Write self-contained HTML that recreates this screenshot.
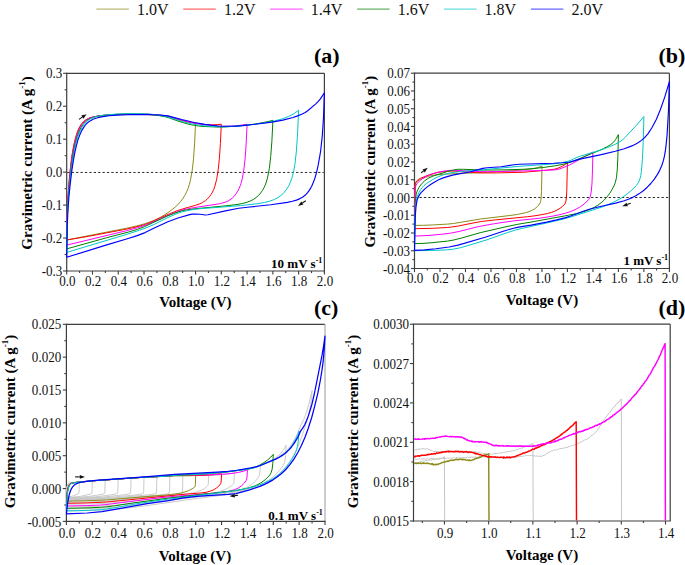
<!DOCTYPE html>
<html><head><meta charset="utf-8"><style>
html,body{margin:0;padding:0;background:#fff;}
svg{display:block;}
.t{font-family:"Liberation Serif",serif;font-size:14.5px;fill:#111;}
.lab{font-family:"Liberation Serif",serif;font-size:15px;font-weight:bold;fill:#000;}
.pl{font-family:"Liberation Serif",serif;font-size:22px;font-weight:bold;fill:#000;}
.rt{font-family:"Liberation Serif",serif;font-size:13px;font-weight:bold;fill:#000;}
.lg{font-family:"Liberation Serif",serif;font-size:16px;fill:#111;}
</style></head><body>
<svg width="685" height="565" viewBox="0 0 685 565">
<rect width="685" height="565" fill="#fff"/>
<line x1="96.40" y1="9.1" x2="128.90" y2="9.1" stroke="#8c8c1c" stroke-width="1.2" opacity="0.6"/>
<text x="137.00" y="14.7" class="lg">1.0V</text>
<line x1="183.30" y1="9.1" x2="215.80" y2="9.1" stroke="#ff0000" stroke-width="1.2" opacity="0.6"/>
<text x="223.90" y="14.7" class="lg">1.2V</text>
<line x1="270.20" y1="9.1" x2="302.70" y2="9.1" stroke="#ff00ff" stroke-width="1.2" opacity="0.6"/>
<text x="310.80" y="14.7" class="lg">1.4V</text>
<line x1="357.10" y1="9.1" x2="389.60" y2="9.1" stroke="#008000" stroke-width="1.2" opacity="0.6"/>
<text x="397.70" y="14.7" class="lg">1.6V</text>
<line x1="444.00" y1="9.1" x2="476.50" y2="9.1" stroke="#00c8c8" stroke-width="1.2" opacity="0.6"/>
<text x="484.60" y="14.7" class="lg">1.8V</text>
<line x1="530.90" y1="9.1" x2="563.40" y2="9.1" stroke="#0000ff" stroke-width="1.2" opacity="0.6"/>
<text x="571.50" y="14.7" class="lg">2.0V</text>
<line x1="66.7" y1="73.3" x2="324.4" y2="73.3" stroke="#3e3e3e" stroke-width="1.2"/>
<line x1="324.4" y1="73.3" x2="324.4" y2="271.0" stroke="#3e3e3e" stroke-width="1.2"/>
<line x1="66.7" y1="72.7" x2="66.7" y2="271.6" stroke="#3e3e3e" stroke-width="1.2"/>
<line x1="66.10000000000001" y1="271.0" x2="325.0" y2="271.0" stroke="#3e3e3e" stroke-width="1.2"/>
<line x1="66.70" y1="271.0" x2="66.70" y2="274.6" stroke="#3e3e3e" stroke-width="1.1"/>
<line x1="92.47" y1="271.0" x2="92.47" y2="274.6" stroke="#3e3e3e" stroke-width="1.1"/>
<line x1="118.24" y1="271.0" x2="118.24" y2="274.6" stroke="#3e3e3e" stroke-width="1.1"/>
<line x1="144.01" y1="271.0" x2="144.01" y2="274.6" stroke="#3e3e3e" stroke-width="1.1"/>
<line x1="169.78" y1="271.0" x2="169.78" y2="274.6" stroke="#3e3e3e" stroke-width="1.1"/>
<line x1="195.55" y1="271.0" x2="195.55" y2="274.6" stroke="#3e3e3e" stroke-width="1.1"/>
<line x1="221.32" y1="271.0" x2="221.32" y2="274.6" stroke="#3e3e3e" stroke-width="1.1"/>
<line x1="247.09" y1="271.0" x2="247.09" y2="274.6" stroke="#3e3e3e" stroke-width="1.1"/>
<line x1="272.86" y1="271.0" x2="272.86" y2="274.6" stroke="#3e3e3e" stroke-width="1.1"/>
<line x1="298.63" y1="271.0" x2="298.63" y2="274.6" stroke="#3e3e3e" stroke-width="1.1"/>
<line x1="324.40" y1="271.0" x2="324.40" y2="274.6" stroke="#3e3e3e" stroke-width="1.1"/>
<line x1="79.59" y1="271.0" x2="79.59" y2="273.1" stroke="#3e3e3e" stroke-width="1.1"/>
<line x1="105.36" y1="271.0" x2="105.36" y2="273.1" stroke="#3e3e3e" stroke-width="1.1"/>
<line x1="131.12" y1="271.0" x2="131.12" y2="273.1" stroke="#3e3e3e" stroke-width="1.1"/>
<line x1="156.90" y1="271.0" x2="156.90" y2="273.1" stroke="#3e3e3e" stroke-width="1.1"/>
<line x1="182.67" y1="271.0" x2="182.67" y2="273.1" stroke="#3e3e3e" stroke-width="1.1"/>
<line x1="208.44" y1="271.0" x2="208.44" y2="273.1" stroke="#3e3e3e" stroke-width="1.1"/>
<line x1="234.21" y1="271.0" x2="234.21" y2="273.1" stroke="#3e3e3e" stroke-width="1.1"/>
<line x1="259.98" y1="271.0" x2="259.98" y2="273.1" stroke="#3e3e3e" stroke-width="1.1"/>
<line x1="285.75" y1="271.0" x2="285.75" y2="273.1" stroke="#3e3e3e" stroke-width="1.1"/>
<line x1="311.52" y1="271.0" x2="311.52" y2="273.1" stroke="#3e3e3e" stroke-width="1.1"/>
<line x1="63.1" y1="271.00" x2="66.7" y2="271.00" stroke="#3e3e3e" stroke-width="1.1"/>
<line x1="63.1" y1="238.05" x2="66.7" y2="238.05" stroke="#3e3e3e" stroke-width="1.1"/>
<line x1="63.1" y1="205.10" x2="66.7" y2="205.10" stroke="#3e3e3e" stroke-width="1.1"/>
<line x1="63.1" y1="172.15" x2="66.7" y2="172.15" stroke="#3e3e3e" stroke-width="1.1"/>
<line x1="63.1" y1="139.20" x2="66.7" y2="139.20" stroke="#3e3e3e" stroke-width="1.1"/>
<line x1="63.1" y1="106.25" x2="66.7" y2="106.25" stroke="#3e3e3e" stroke-width="1.1"/>
<line x1="63.1" y1="73.30" x2="66.7" y2="73.30" stroke="#3e3e3e" stroke-width="1.1"/>
<line x1="64.60000000000001" y1="254.53" x2="66.7" y2="254.53" stroke="#3e3e3e" stroke-width="1.1"/>
<line x1="64.60000000000001" y1="221.57" x2="66.7" y2="221.57" stroke="#3e3e3e" stroke-width="1.1"/>
<line x1="64.60000000000001" y1="188.62" x2="66.7" y2="188.62" stroke="#3e3e3e" stroke-width="1.1"/>
<line x1="64.60000000000001" y1="155.68" x2="66.7" y2="155.68" stroke="#3e3e3e" stroke-width="1.1"/>
<line x1="64.60000000000001" y1="122.73" x2="66.7" y2="122.73" stroke="#3e3e3e" stroke-width="1.1"/>
<line x1="64.60000000000001" y1="89.78" x2="66.7" y2="89.78" stroke="#3e3e3e" stroke-width="1.1"/>
<text transform="translate(67.30,285.8) scale(0.9,1)" text-anchor="middle" class="t">0.0</text>
<text transform="translate(93.07,285.8) scale(0.9,1)" text-anchor="middle" class="t">0.2</text>
<text transform="translate(118.84,285.8) scale(0.9,1)" text-anchor="middle" class="t">0.4</text>
<text transform="translate(144.61,285.8) scale(0.9,1)" text-anchor="middle" class="t">0.6</text>
<text transform="translate(170.38,285.8) scale(0.9,1)" text-anchor="middle" class="t">0.8</text>
<text transform="translate(196.15,285.8) scale(0.9,1)" text-anchor="middle" class="t">1.0</text>
<text transform="translate(221.92,285.8) scale(0.9,1)" text-anchor="middle" class="t">1.2</text>
<text transform="translate(247.69,285.8) scale(0.9,1)" text-anchor="middle" class="t">1.4</text>
<text transform="translate(273.46,285.8) scale(0.9,1)" text-anchor="middle" class="t">1.6</text>
<text transform="translate(299.23,285.8) scale(0.9,1)" text-anchor="middle" class="t">1.8</text>
<text transform="translate(325.00,285.8) scale(0.9,1)" text-anchor="middle" class="t">2.0</text>
<text transform="translate(62.30,276.10) scale(0.9,1)" text-anchor="end" class="t">-0.3</text>
<text transform="translate(62.30,243.15) scale(0.9,1)" text-anchor="end" class="t">-0.2</text>
<text transform="translate(62.30,210.20) scale(0.9,1)" text-anchor="end" class="t">-0.1</text>
<text transform="translate(62.30,177.25) scale(0.9,1)" text-anchor="end" class="t">0.0</text>
<text transform="translate(62.30,144.30) scale(0.9,1)" text-anchor="end" class="t">0.1</text>
<text transform="translate(62.30,111.35) scale(0.9,1)" text-anchor="end" class="t">0.2</text>
<text transform="translate(62.30,78.40) scale(0.9,1)" text-anchor="end" class="t">0.3</text>
<line x1="67.3" y1="172.45" x2="323.79999999999995" y2="172.45" stroke="#2a2a2a" stroke-width="1.0" stroke-dasharray="2.3 2.1"/>
<path d="M66.7 240.0l0.5 -26.2 0.8 -17.6 1.5 -19.7 2.3 -19.4 2.3 -13.1 1.3 -5.4 1.5 -5.1 1.5 -3.9 1.8 -3.5 1.7 -2.6 2.1 -2.1 2.7 -2 3.3 -1.5 4.1 -1.1 5.8 -0.8 11.1 -1 10.9 -0.5 8.1 -0.2 12.9 0.1 12.4 0.6 8.4 0.9 5.3 1 7.1 2.2 8.3 2.2 6.1 1.1 5.1 0.6 -1 20.2 -1.1 16 -1.3 11.4 -1.8 9.8 -1 3.9 -1.2 3.9 -1.6 3.7 -1.7 3.4 -1.8 2.9 -2.3 3.1 -2.5 2.8 -2.8 2.8 -5.6 4.4 -5.5 3.7 -4.3 2.5 -7.1 3.3 -8.1 2.9 -8.4 2.3 -9.8 2.2 -60 11.8" fill="none" stroke="#8c8c1c" stroke-width="1.0" stroke-linejoin="round" />
<path d="M66.7 240.0l0.5 -26.9 0.8 -17.8 1.8 -21.4 1.2 -10.8 1.2 -8.8 1.2 -7.1 1.3 -5.8 1.5 -5.7 1.5 -4.5 1.5 -3.4 1.8 -3.1 2.2 -2.6 2.1 -1.9 3 -1.7 3.4 -1.2 4.8 -1 6.1 -0.8 11.8 -0.8 11.3 -0.4 21.5 0 11.3 0.7 8.8 1.2 2.7 0.7 9.4 2.8 6.7 1.8 6.7 1.4 6 1 6.4 0.7 6.4 0.2 5.5 -0.1 4.2 -0.5 -0.9 19.3 -1 14.8 -1.2 11.6 -1.5 9.3 -1.8 7 -1.2 3.3 -1.2 2.6 -1.6 2.6 -1.5 2.1 -1.8 2 -2.1 1.8 -3.1 2 -3.3 1.5 -3.3 1.1 -13.4 3.8 -5.2 1.7 -10.3 4.2 -18.2 8.3 -3.4 1.2 -3 1 -8.5 2.1 -10.3 2.2 -34.9 6.6 -21.9 3.7" fill="none" stroke="#ff0000" stroke-width="1.0" stroke-linejoin="round" />
<path d="M66.7 245.1l0.5 -28.3 0.8 -18.4 1.9 -23.1 1.1 -9.5 1.4 -10.2 1.1 -6.3 1.4 -6.8 1.4 -5.5 1.8 -5.2 1.8 -3.9 2.1 -3.5 2.1 -2.5 2.5 -2 3.2 -1.8 3.5 -1.1 4.6 -1 6.1 -0.7 10.6 -0.8 11.3 -0.4 21.3 0 11 0.7 8.8 1.2 2.9 0.7 11.6 3.4 11.4 2.7 10.6 1.8 11 1.3 7.4 0.5 9.2 -0.3 7.8 -0.6 8.2 -1.3 -0.9 19 -1 14.7 -1.3 11.2 -1.5 8.9 -1 4.3 -1.1 3.3 -1.1 2.7 -1.4 2.8 -1.8 2.9 -1.7 2.2 -2.2 2 -2.1 1.6 -2.1 1.3 -2.1 0.9 -5.3 1.6 -27 4.1 -6 1.2 -5 1.1 -4.9 1.6 -8.5 3.3 -21.6 9.5 -8.2 2.8 -12.7 3.5 -59.9 14.4" fill="none" stroke="#ff00ff" stroke-width="1.0" stroke-linejoin="round" />
<path d="M66.7 248.9l0.5 -29.3 0.9 -19 2.1 -24 1.4 -11.9 1.2 -8.3 1.3 -6.9 1.6 -7.3 1.6 -5.8 1.6 -4.4 2 -4.3 2.1 -3.2 2.4 -2.7 2.8 -2.2 3.3 -1.7 4 -1.3 4.9 -0.9 6.1 -0.7 9.3 -0.7 11.3 -0.4 10.9 0.1 9.3 0.3 10.2 1 7.7 1.5 4 1.1 6.5 2.4 6.5 2.1 6 1.7 5.3 1.1 5.3 0.8 5.2 0.5 15.4 0.6 4.1 -0.1 12.5 -0.8 10.5 -1.1 8.1 -1 7.3 -1.3 6.1 -1.2 4.9 -1.3 -1 20.8 -1.2 15.5 -1.4 12.2 -1.8 9.1 -1.2 4.2 -1.2 3.2 -1.2 2.6 -1.6 2.8 -1.7 2.3 -2 2.4 -2.4 2.1 -2.4 1.7 -3.3 1.7 -3.6 1.4 -4.1 1.1 -4.8 1 -9.8 1.2 -34.4 3.3 -7.3 1 -5.2 1.1 -5.3 1.7 -8.9 3.4 -22.7 10.6 -6.8 2.6 -9 2.7 -22.2 5.8 -39.7 11.1" fill="none" stroke="#008000" stroke-width="1.0" stroke-linejoin="round" />
<path d="M66.7 252.4l0.5 -30.8 0.9 -18.8 1 -12.3 1.3 -12.6 1.4 -11.7 1.4 -9 1.3 -7.4 1.8 -7.8 1.9 -6 1.8 -4.7 1.8 -3.6 2.3 -3.4 2.7 -2.9 2.8 -2 3.6 -1.8 4.1 -1.2 5 -1 6.4 -0.7 8.2 -0.6 10.9 -0.4 11.4 0.1 8.7 0.2 10 0.9 9.1 1.8 15.9 5 7.3 1.9 5.9 1.1 8.2 1.1 11 0.8 5.9 0.2 5.5 -0.1 11.8 -0.7 14.1 -1.5 13.7 -1.9 8.6 -1.7 7.3 -2 6.4 -2.4 5.5 -2.9 4.5 -3.4 -1 22.9 -1.2 17.8 -1.4 12.9 -0.9 5.3 -1 4.8 -1.4 4.7 -1.4 3.7 -1.3 3 -1.8 3.1 -1.9 2.6 -2.2 2.6 -2.3 2 -2.8 2 -3.6 1.9 -4.5 1.6 -5.5 1.4 -6.8 1.2 -16.9 1.9 -41.9 3.2 -8.2 1.2 -7.7 1.6 -4.1 1.3 -4.6 1.9 -7.3 3.2 -12.3 6.2 -7.7 3.3 -7.3 2.7 -12.3 4 -60.6 18.2" fill="none" stroke="#00c8c8" stroke-width="1.0" stroke-linejoin="round" />
<path d="M66.7 257.3l0.5 -31.1 0.9 -18.4 0.9 -12 1.4 -13.4 1.4 -11.5 1.6 -10.5 1.5 -8.2 1.5 -6.6 1.5 -5.5 2.1 -5.7 2 -4.3 2.5 -4 2.5 -2.9 3.1 -2.3 3.5 -1.9 4.1 -1.3 5 -1.1 6.6 -0.8 7.6 -0.7 10.6 -0.4 23.8 0 8.6 0.3 8.1 0.9 13.7 3.6 12.6 3 10.7 1.9 13.1 1.6 5.6 0.3 12.6 -0.2 6.6 -0.5 12.2 -1.3 16.7 -2.2 11.1 -2 10.1 -2.6 4.6 -1.6 4 -1.6 3.6 -1.8 2.5 -1.7 8.1 -6.9 2.5 -2.5 2.1 -2.5 4 -6.2 -0.9 25 -1.2 17.9 -1.7 15.7 -2.4 13.9 -1.5 6.6 -1.5 5.4 -1.5 4.4 -2 4.7 -2.1 3.6 -2 2.8 -2.5 2.6 -2.6 1.9 -2.5 1.4 -3.5 1.5 -4.1 1.2 -5 1.1 -16.7 2.4 -23.3 2.4 -8.6 1 -12.2 2.4 -18.7 4.2 -2.5 0.2 -5.1 -0.8 -5.6 -0.2 -2.5 0.1 -2.5 0.5 -11.7 3.4 -10.1 3.7 -13.1 6 -9.7 4.9 -8.6 3.3 -9.1 2.9 -20.7 6.1 -40 12.4" fill="none" stroke="#0000ff" stroke-width="1.15" stroke-linejoin="round" />
<line x1="79.00" y1="119.40" x2="82.31" y2="117.14" stroke="#111" stroke-width="1.1"/>
<polygon points="86.60,114.20 83.35,118.66 81.26,115.61" fill="#111"/>
<line x1="305.80" y1="200.80" x2="302.35" y2="203.05" stroke="#111" stroke-width="1.1"/>
<polygon points="298.00,205.90 301.34,201.51 303.36,204.60" fill="#111"/>
<text x="322.3" y="267.5" text-anchor="end" class="rt">10 mV s<tspan dy="-5" font-size="8">-1</tspan></text>
<text x="195.4" y="307.2" text-anchor="middle" class="lab">Voltage (V)</text>
<text transform="translate(32.3,249.7) rotate(-90)" class="lab" font-size="15" style="font-size:15px">Gravimetric current (A g<tspan dy="-7.5" font-size="9">-1</tspan><tspan dy="7.5">)</tspan></text>
<text x="314.0" y="62.6" class="pl">(a)</text>
<line x1="414.5" y1="73.2" x2="669.4" y2="73.2" stroke="#3e3e3e" stroke-width="1.2"/>
<line x1="669.4" y1="73.2" x2="669.4" y2="268.5" stroke="#3e3e3e" stroke-width="1.2"/>
<line x1="414.5" y1="72.60000000000001" x2="414.5" y2="269.1" stroke="#3e3e3e" stroke-width="1.2"/>
<line x1="413.9" y1="268.5" x2="670.0" y2="268.5" stroke="#3e3e3e" stroke-width="1.2"/>
<line x1="414.50" y1="268.5" x2="414.50" y2="272.1" stroke="#3e3e3e" stroke-width="1.1"/>
<line x1="439.99" y1="268.5" x2="439.99" y2="272.1" stroke="#3e3e3e" stroke-width="1.1"/>
<line x1="465.48" y1="268.5" x2="465.48" y2="272.1" stroke="#3e3e3e" stroke-width="1.1"/>
<line x1="490.97" y1="268.5" x2="490.97" y2="272.1" stroke="#3e3e3e" stroke-width="1.1"/>
<line x1="516.46" y1="268.5" x2="516.46" y2="272.1" stroke="#3e3e3e" stroke-width="1.1"/>
<line x1="541.95" y1="268.5" x2="541.95" y2="272.1" stroke="#3e3e3e" stroke-width="1.1"/>
<line x1="567.44" y1="268.5" x2="567.44" y2="272.1" stroke="#3e3e3e" stroke-width="1.1"/>
<line x1="592.93" y1="268.5" x2="592.93" y2="272.1" stroke="#3e3e3e" stroke-width="1.1"/>
<line x1="618.42" y1="268.5" x2="618.42" y2="272.1" stroke="#3e3e3e" stroke-width="1.1"/>
<line x1="643.91" y1="268.5" x2="643.91" y2="272.1" stroke="#3e3e3e" stroke-width="1.1"/>
<line x1="669.40" y1="268.5" x2="669.40" y2="272.1" stroke="#3e3e3e" stroke-width="1.1"/>
<line x1="427.25" y1="268.5" x2="427.25" y2="270.6" stroke="#3e3e3e" stroke-width="1.1"/>
<line x1="452.74" y1="268.5" x2="452.74" y2="270.6" stroke="#3e3e3e" stroke-width="1.1"/>
<line x1="478.23" y1="268.5" x2="478.23" y2="270.6" stroke="#3e3e3e" stroke-width="1.1"/>
<line x1="503.72" y1="268.5" x2="503.72" y2="270.6" stroke="#3e3e3e" stroke-width="1.1"/>
<line x1="529.21" y1="268.5" x2="529.21" y2="270.6" stroke="#3e3e3e" stroke-width="1.1"/>
<line x1="554.70" y1="268.5" x2="554.70" y2="270.6" stroke="#3e3e3e" stroke-width="1.1"/>
<line x1="580.19" y1="268.5" x2="580.19" y2="270.6" stroke="#3e3e3e" stroke-width="1.1"/>
<line x1="605.68" y1="268.5" x2="605.68" y2="270.6" stroke="#3e3e3e" stroke-width="1.1"/>
<line x1="631.16" y1="268.5" x2="631.16" y2="270.6" stroke="#3e3e3e" stroke-width="1.1"/>
<line x1="656.65" y1="268.5" x2="656.65" y2="270.6" stroke="#3e3e3e" stroke-width="1.1"/>
<line x1="410.9" y1="268.50" x2="414.5" y2="268.50" stroke="#3e3e3e" stroke-width="1.1"/>
<line x1="410.9" y1="250.75" x2="414.5" y2="250.75" stroke="#3e3e3e" stroke-width="1.1"/>
<line x1="410.9" y1="232.99" x2="414.5" y2="232.99" stroke="#3e3e3e" stroke-width="1.1"/>
<line x1="410.9" y1="215.24" x2="414.5" y2="215.24" stroke="#3e3e3e" stroke-width="1.1"/>
<line x1="410.9" y1="197.48" x2="414.5" y2="197.48" stroke="#3e3e3e" stroke-width="1.1"/>
<line x1="410.9" y1="179.73" x2="414.5" y2="179.73" stroke="#3e3e3e" stroke-width="1.1"/>
<line x1="410.9" y1="161.97" x2="414.5" y2="161.97" stroke="#3e3e3e" stroke-width="1.1"/>
<line x1="410.9" y1="144.22" x2="414.5" y2="144.22" stroke="#3e3e3e" stroke-width="1.1"/>
<line x1="410.9" y1="126.46" x2="414.5" y2="126.46" stroke="#3e3e3e" stroke-width="1.1"/>
<line x1="410.9" y1="108.71" x2="414.5" y2="108.71" stroke="#3e3e3e" stroke-width="1.1"/>
<line x1="410.9" y1="90.95" x2="414.5" y2="90.95" stroke="#3e3e3e" stroke-width="1.1"/>
<line x1="410.9" y1="73.20" x2="414.5" y2="73.20" stroke="#3e3e3e" stroke-width="1.1"/>
<line x1="412.4" y1="259.62" x2="414.5" y2="259.62" stroke="#3e3e3e" stroke-width="1.1"/>
<line x1="412.4" y1="241.87" x2="414.5" y2="241.87" stroke="#3e3e3e" stroke-width="1.1"/>
<line x1="412.4" y1="224.11" x2="414.5" y2="224.11" stroke="#3e3e3e" stroke-width="1.1"/>
<line x1="412.4" y1="206.36" x2="414.5" y2="206.36" stroke="#3e3e3e" stroke-width="1.1"/>
<line x1="412.4" y1="188.60" x2="414.5" y2="188.60" stroke="#3e3e3e" stroke-width="1.1"/>
<line x1="412.4" y1="170.85" x2="414.5" y2="170.85" stroke="#3e3e3e" stroke-width="1.1"/>
<line x1="412.4" y1="153.10" x2="414.5" y2="153.10" stroke="#3e3e3e" stroke-width="1.1"/>
<line x1="412.4" y1="135.34" x2="414.5" y2="135.34" stroke="#3e3e3e" stroke-width="1.1"/>
<line x1="412.4" y1="117.59" x2="414.5" y2="117.59" stroke="#3e3e3e" stroke-width="1.1"/>
<line x1="412.4" y1="99.83" x2="414.5" y2="99.83" stroke="#3e3e3e" stroke-width="1.1"/>
<line x1="412.4" y1="82.08" x2="414.5" y2="82.08" stroke="#3e3e3e" stroke-width="1.1"/>
<text transform="translate(415.10,283.0) scale(0.9,1)" text-anchor="middle" class="t">0.0</text>
<text transform="translate(440.59,283.0) scale(0.9,1)" text-anchor="middle" class="t">0.2</text>
<text transform="translate(466.08,283.0) scale(0.9,1)" text-anchor="middle" class="t">0.4</text>
<text transform="translate(491.57,283.0) scale(0.9,1)" text-anchor="middle" class="t">0.6</text>
<text transform="translate(517.06,283.0) scale(0.9,1)" text-anchor="middle" class="t">0.8</text>
<text transform="translate(542.55,283.0) scale(0.9,1)" text-anchor="middle" class="t">1.0</text>
<text transform="translate(568.04,283.0) scale(0.9,1)" text-anchor="middle" class="t">1.2</text>
<text transform="translate(593.53,283.0) scale(0.9,1)" text-anchor="middle" class="t">1.4</text>
<text transform="translate(619.02,283.0) scale(0.9,1)" text-anchor="middle" class="t">1.6</text>
<text transform="translate(644.51,283.0) scale(0.9,1)" text-anchor="middle" class="t">1.8</text>
<text transform="translate(670.00,283.0) scale(0.9,1)" text-anchor="middle" class="t">2.0</text>
<text transform="translate(410.10,273.60) scale(0.9,1)" text-anchor="end" class="t">-0.04</text>
<text transform="translate(410.10,255.85) scale(0.9,1)" text-anchor="end" class="t">-0.03</text>
<text transform="translate(410.10,238.09) scale(0.9,1)" text-anchor="end" class="t">-0.02</text>
<text transform="translate(410.10,220.34) scale(0.9,1)" text-anchor="end" class="t">-0.01</text>
<text transform="translate(410.10,202.58) scale(0.9,1)" text-anchor="end" class="t">0.00</text>
<text transform="translate(410.10,184.83) scale(0.9,1)" text-anchor="end" class="t">0.01</text>
<text transform="translate(410.10,167.07) scale(0.9,1)" text-anchor="end" class="t">0.02</text>
<text transform="translate(410.10,149.32) scale(0.9,1)" text-anchor="end" class="t">0.03</text>
<text transform="translate(410.10,131.56) scale(0.9,1)" text-anchor="end" class="t">0.04</text>
<text transform="translate(410.10,113.81) scale(0.9,1)" text-anchor="end" class="t">0.05</text>
<text transform="translate(410.10,96.05) scale(0.9,1)" text-anchor="end" class="t">0.06</text>
<text transform="translate(410.10,78.30) scale(0.9,1)" text-anchor="end" class="t">0.07</text>
<line x1="415.1" y1="197.50" x2="668.8" y2="197.50" stroke="#2a2a2a" stroke-width="1.0" stroke-dasharray="2.3 2.1"/>
<path d="M414.5 225.4l0.3 -29.7 0.4 -10.4 0.4 -1.8 0.8 -1.4 1.7 -1.4 2 -1.1 5.5 -2.3 3.2 -1.1 4.8 -1 4.7 -0.6 7 -0.5 44.1 -1.9 25.8 -1.6 10.5 -1 7.2 -0.9 4.3 -0.9 4.8 -1.6 -0.5 25.2 -0.4 6.5 -0.5 3.7 -0.9 2.2 -2.1 2.6 -2.7 2.3 -3.3 1.9 -2.7 1.1 -3.3 1 -8 1.7 -8.5 1.2 -28.5 3.4 -27.1 4.5 -6 0.6 -14 0.8 -10 0.4 -9 0.1" fill="none" stroke="#8c8c1c" stroke-width="1.0" stroke-linejoin="round" />
<path d="M414.5 228.7l0.3 -33.5 0.4 -10.7 0.4 -1.9 1.2 -1.8 1.4 -1.2 2.1 -1.2 7.8 -3.2 6.6 -2 4.8 -1 9 -1.1 4.8 0 16.2 1.2 9.3 0.6 17.8 0 26.7 -0.6 24.3 -2.2 7.2 -1 3.9 -1.2 4.2 -1.9 4.5 -3.3 -0.6 27.7 -0.4 7.4 -0.6 4 -1 2.3 -2.2 2.3 -3.6 2.6 -4.2 2.2 -3.3 1.2 -3.9 1.1 -10.6 2 -9.3 1.2 -32.4 3.2 -14.1 1.6 -7.2 1.3 -15.6 3.2 -6.7 1 -4.5 0.5 -14.4 0.8 -18.3 0.4" fill="none" stroke="#ff0000" stroke-width="1.0" stroke-linejoin="round" />
<path d="M414.5 236.0l0.4 -36.6 0.2 -8.3 0.5 -4.4 0.4 -1.4 0.7 -1.3 2.8 -3.1 3.1 -2.4 4.2 -2.3 6.3 -2.5 4.9 -1.6 7.1 -1.2 5.2 -0.5 8.8 0.1 19.9 1.1 8.5 0.1 52.9 -1.1 15.7 -0.8 2.5 -0.5 2.4 -0.8 8.5 -3.5 23.4 -13 -0.4 17.8 -0.5 13.3 -0.7 8.1 -0.9 4.9 -0.7 1.7 -1 1.7 -3.5 3.6 -4.6 3.5 -5.6 3.1 -4.6 1.9 -4.9 1.6 -5.6 1.4 -7 1.5 -13.6 2.2 -26 2.6 -18.9 2.8 -16.1 2.9 -19.3 4.9 -8.1 1.6 -8 1 -12.6 1.2 -8.4 0.5 -7.4 0.2" fill="none" stroke="#ff00ff" stroke-width="1.0" stroke-linejoin="round" />
<path d="M414.5 243.6l0.6 -36.2 0.5 -8.5 0.6 -4.7 0.6 -2.3 0.9 -2 1.3 -2.4 1.6 -2.4 1.6 -1.9 2.4 -2.3 2.4 -1.8 2 -1.3 4.8 -2 13.6 -4.3 4 -1.1 6 -1.1 6 0 21.3 0.8 17.6 -0.2 20.4 -0.6 9.2 -0.6 10.4 -1.1 13.6 -1.9 7.3 -1.4 5.2 -1.4 4 -1.4 26.8 -11 4.4 -2 4 -2.1 3.2 -1.9 2.8 -2.3 2 -2.7 2.8 -4.9 -0.5 21.3 -0.6 13.2 -0.8 8.2 -1.2 5.4 -1.4 3.3 -2 3.8 -2.4 3.8 -2.8 3.7 -2.8 3 -2.8 2.5 -3.2 2.4 -3.6 2.1 -3.6 1.8 -4.4 1.7 -4.8 1.5 -5.2 1.4 -7.6 1.5 -34.5 6.3 -16.4 2.8 -10.8 2.2 -26.8 6.2 -19.2 5.5 -8.1 2 -5.6 0.9 -15.2 1.6 -9.2 0.7 -8.4 0.2" fill="none" stroke="#008000" stroke-width="1.0" stroke-linejoin="round" />
<path d="M414.5 250.7l0.3 -22.6 0.5 -15.3 0.6 -9.4 1 -5.7 0.8 -2.5 1 -2.4 1.7 -2.9 1.8 -2.4 1.8 -1.9 2.3 -1.9 6.3 -4.1 5 -2.6 5.4 -2.1 5.8 -1.7 5.4 -0.9 8.6 -1 20.7 -1.6 34.7 -3.3 33.8 -2.4 8.6 -1.1 7.6 -1.7 2.7 -1 6.3 -2.9 3.2 -1.2 18.5 -5.5 6.3 -2.1 8.1 -3.3 5.8 -3 3.2 -2.1 3.1 -3 10.9 -11.7 7.6 -8.9 -0.7 25.9 -0.8 17.3 -1 11.6 -0.6 4.1 -0.8 3.3 -1.1 2.9 -0.9 1.6 -1.8 2.4 -2.3 2.5 -3.1 2.9 -3.6 2.9 -3.6 2.6 -4.1 2.6 -7.2 3.7 -8.6 3.6 -8.1 2.7 -25.2 8 -6.3 1.8 -9.5 2.3 -33.3 7.4 -5.9 1.5 -8.1 2.5 -20.7 7.3 -19.8 6 -6.3 1.8 -6.8 1.4 -5.9 0.7 -17.5 0.7 -15.8 0.2" fill="none" stroke="#00c8c8" stroke-width="1.0" stroke-linejoin="round" />
<path d="M414.5 250.4l0.4 -21.9 0.4 -12.8 0.7 -9.1 1 -6 0.7 -2.2 0.9 -2 1 -1.8 1.5 -2 3.5 -3.5 3 -2.5 3 -2.1 4.5 -2.8 3.5 -1.9 4 -1.7 4.5 -1.5 5.5 -1.5 18.1 -3.4 12 -3.3 4.5 -0.6 14 -1 13 -2.1 5 -0.5 34.6 -1 8.5 -0.5 6 -0.5 3 -0.6 8.5 -2.5 21.5 -4.5 14 -3.4 9 -2.5 7.6 -2.8 3.5 -1.7 3 -1.7 3 -2.1 3 -2.5 3.5 -4 4 -6.2 4.5 -8.4 4 -9.8 4.5 -12.9 4.5 -14.9 -1 30.5 -1.3 22.4 -0.8 8.5 -0.8 6.8 -1 6 -1.2 5 -1.5 4.6 -2 4.6 -2.5 4.5 -3 4.5 -3.5 4.4 -3.5 3.7 -4 3.5 -4 2.9 -3.5 2.2 -3.5 1.8 -4 1.7 -4 1.5 -8.6 2.3 -16.5 3.6 -10 2.5 -6 2 -12.5 4.8 -5 1.6 -9 2.3 -10 2.2 -15.6 3 -12.5 2 -6 1.4 -8.5 2.5 -19 6.2 -27 7.9 -9.1 1.9 -13 1.8 -11.5 1.1 -10 0.5" fill="none" stroke="#0000ff" stroke-width="1.15" stroke-linejoin="round" />
<line x1="421.20" y1="172.70" x2="423.62" y2="170.90" stroke="#111" stroke-width="1.1"/>
<polygon points="427.80,167.80 424.73,172.39 422.52,169.41" fill="#111"/>
<line x1="630.70" y1="203.30" x2="627.20" y2="204.55" stroke="#111" stroke-width="1.1"/>
<polygon points="622.30,206.30 626.57,202.81 627.82,206.29" fill="#111"/>
<text x="668.1" y="264.6" text-anchor="end" class="rt">1 mV s<tspan dy="-5" font-size="8">-1</tspan></text>
<text x="542.0" y="304.5" text-anchor="middle" class="lab">Voltage (V)</text>
<text transform="translate(375.4,247.5) rotate(-90)" class="lab" font-size="14.85" style="font-size:14.85px">Gravimetric current (A g<tspan dy="-7.5" font-size="9">-1</tspan><tspan dy="7.5">)</tspan></text>
<text x="658.4" y="62.6" class="pl">(b)</text>
<line x1="66.4" y1="324.3" x2="325.0" y2="324.3" stroke="#3e3e3e" stroke-width="1.2"/>
<line x1="325.0" y1="324.3" x2="325.0" y2="521.4" stroke="#aaaaaa" stroke-width="1.2"/>
<line x1="66.4" y1="323.7" x2="66.4" y2="522.0" stroke="#3e3e3e" stroke-width="1.2"/>
<line x1="65.80000000000001" y1="521.4" x2="325.6" y2="521.4" stroke="#3e3e3e" stroke-width="1.2"/>
<line x1="66.40" y1="521.4" x2="66.40" y2="525.0" stroke="#3e3e3e" stroke-width="1.1"/>
<line x1="92.26" y1="521.4" x2="92.26" y2="525.0" stroke="#3e3e3e" stroke-width="1.1"/>
<line x1="118.12" y1="521.4" x2="118.12" y2="525.0" stroke="#3e3e3e" stroke-width="1.1"/>
<line x1="143.98" y1="521.4" x2="143.98" y2="525.0" stroke="#3e3e3e" stroke-width="1.1"/>
<line x1="169.84" y1="521.4" x2="169.84" y2="525.0" stroke="#3e3e3e" stroke-width="1.1"/>
<line x1="195.70" y1="521.4" x2="195.70" y2="525.0" stroke="#3e3e3e" stroke-width="1.1"/>
<line x1="221.56" y1="521.4" x2="221.56" y2="525.0" stroke="#3e3e3e" stroke-width="1.1"/>
<line x1="247.42" y1="521.4" x2="247.42" y2="525.0" stroke="#3e3e3e" stroke-width="1.1"/>
<line x1="273.28" y1="521.4" x2="273.28" y2="525.0" stroke="#3e3e3e" stroke-width="1.1"/>
<line x1="299.14" y1="521.4" x2="299.14" y2="525.0" stroke="#3e3e3e" stroke-width="1.1"/>
<line x1="325.00" y1="521.4" x2="325.00" y2="525.0" stroke="#3e3e3e" stroke-width="1.1"/>
<line x1="79.33" y1="521.4" x2="79.33" y2="523.5" stroke="#3e3e3e" stroke-width="1.1"/>
<line x1="105.19" y1="521.4" x2="105.19" y2="523.5" stroke="#3e3e3e" stroke-width="1.1"/>
<line x1="131.05" y1="521.4" x2="131.05" y2="523.5" stroke="#3e3e3e" stroke-width="1.1"/>
<line x1="156.91" y1="521.4" x2="156.91" y2="523.5" stroke="#3e3e3e" stroke-width="1.1"/>
<line x1="182.77" y1="521.4" x2="182.77" y2="523.5" stroke="#3e3e3e" stroke-width="1.1"/>
<line x1="208.63" y1="521.4" x2="208.63" y2="523.5" stroke="#3e3e3e" stroke-width="1.1"/>
<line x1="234.49" y1="521.4" x2="234.49" y2="523.5" stroke="#3e3e3e" stroke-width="1.1"/>
<line x1="260.35" y1="521.4" x2="260.35" y2="523.5" stroke="#3e3e3e" stroke-width="1.1"/>
<line x1="286.21" y1="521.4" x2="286.21" y2="523.5" stroke="#3e3e3e" stroke-width="1.1"/>
<line x1="312.07" y1="521.4" x2="312.07" y2="523.5" stroke="#3e3e3e" stroke-width="1.1"/>
<line x1="62.800000000000004" y1="521.40" x2="66.4" y2="521.40" stroke="#3e3e3e" stroke-width="1.1"/>
<line x1="62.800000000000004" y1="488.55" x2="66.4" y2="488.55" stroke="#3e3e3e" stroke-width="1.1"/>
<line x1="62.800000000000004" y1="455.70" x2="66.4" y2="455.70" stroke="#3e3e3e" stroke-width="1.1"/>
<line x1="62.800000000000004" y1="422.85" x2="66.4" y2="422.85" stroke="#3e3e3e" stroke-width="1.1"/>
<line x1="62.800000000000004" y1="390.00" x2="66.4" y2="390.00" stroke="#3e3e3e" stroke-width="1.1"/>
<line x1="62.800000000000004" y1="357.15" x2="66.4" y2="357.15" stroke="#3e3e3e" stroke-width="1.1"/>
<line x1="62.800000000000004" y1="324.30" x2="66.4" y2="324.30" stroke="#3e3e3e" stroke-width="1.1"/>
<line x1="64.30000000000001" y1="504.97" x2="66.4" y2="504.97" stroke="#3e3e3e" stroke-width="1.1"/>
<line x1="64.30000000000001" y1="472.12" x2="66.4" y2="472.12" stroke="#3e3e3e" stroke-width="1.1"/>
<line x1="64.30000000000001" y1="439.27" x2="66.4" y2="439.27" stroke="#3e3e3e" stroke-width="1.1"/>
<line x1="64.30000000000001" y1="406.43" x2="66.4" y2="406.43" stroke="#3e3e3e" stroke-width="1.1"/>
<line x1="64.30000000000001" y1="373.57" x2="66.4" y2="373.57" stroke="#3e3e3e" stroke-width="1.1"/>
<line x1="64.30000000000001" y1="340.73" x2="66.4" y2="340.73" stroke="#3e3e3e" stroke-width="1.1"/>
<text transform="translate(67.00,537.7) scale(0.9,1)" text-anchor="middle" class="t">0.0</text>
<text transform="translate(92.86,537.7) scale(0.9,1)" text-anchor="middle" class="t">0.2</text>
<text transform="translate(118.72,537.7) scale(0.9,1)" text-anchor="middle" class="t">0.4</text>
<text transform="translate(144.58,537.7) scale(0.9,1)" text-anchor="middle" class="t">0.6</text>
<text transform="translate(170.44,537.7) scale(0.9,1)" text-anchor="middle" class="t">0.8</text>
<text transform="translate(196.30,537.7) scale(0.9,1)" text-anchor="middle" class="t">1.0</text>
<text transform="translate(222.16,537.7) scale(0.9,1)" text-anchor="middle" class="t">1.2</text>
<text transform="translate(248.02,537.7) scale(0.9,1)" text-anchor="middle" class="t">1.4</text>
<text transform="translate(273.88,537.7) scale(0.9,1)" text-anchor="middle" class="t">1.6</text>
<text transform="translate(299.74,537.7) scale(0.9,1)" text-anchor="middle" class="t">1.8</text>
<text transform="translate(325.60,537.7) scale(0.9,1)" text-anchor="middle" class="t">2.0</text>
<text transform="translate(61.20,526.50) scale(0.9,1)" text-anchor="end" class="t">-0.005</text>
<text transform="translate(61.20,493.65) scale(0.9,1)" text-anchor="end" class="t">0.000</text>
<text transform="translate(61.20,460.80) scale(0.9,1)" text-anchor="end" class="t">0.005</text>
<text transform="translate(61.20,427.95) scale(0.9,1)" text-anchor="end" class="t">0.010</text>
<text transform="translate(61.20,395.10) scale(0.9,1)" text-anchor="end" class="t">0.015</text>
<text transform="translate(61.20,362.25) scale(0.9,1)" text-anchor="end" class="t">0.020</text>
<text transform="translate(61.20,329.40) scale(0.9,1)" text-anchor="end" class="t">0.025</text>
<path d="M66.4 497.1l0.6 -9.3 0.5 -2.2 0.8 -1.4 1.1 -0.8 1.5 -0.5 8.4 -0.8 -0.2 9 -0.2 1.8 -0.3 0.8 -5.3 2.2 -3.5 0.7 -3.4 0.5" fill="none" stroke="#c4c4c4" stroke-width="0.9" stroke-linejoin="round" />
<path d="M66.4 497.6l0.3 -6.6 0.4 -3.8 0.8 -2.3 1.2 -1.3 1.2 -0.5 2 -0.4 20 -1.8 -0.3 10.3 -0.2 1.8 -0.4 0.7 -5.5 1.5 -5.3 1.1 -7.2 0.8 -7 0.4" fill="none" stroke="#c4c4c4" stroke-width="0.9" stroke-linejoin="round" />
<path d="M66.4 498.0l0.3 -7.1 0.5 -3.8 0.8 -2.4 0.6 -0.8 0.9 -0.6 1.4 -0.4 2.6 -0.3 20.4 -1.9 11.3 -0.7 -0.3 11.3 -0.2 1.8 -0.4 0.6 -6.4 1.4 -9.8 1.4 -11.2 0.9 -10.5 0.6" fill="none" stroke="#c4c4c4" stroke-width="0.9" stroke-linejoin="round" />
<path d="M66.4 498.5l0.3 -7.5 0.5 -4.1 0.9 -2.4 0.8 -0.8 0.9 -0.5 3.1 -0.6 20.6 -1.8 24.6 -1.7 -0.3 12.3 -0.2 1.7 -0.5 0.6 -6.8 1.3 -14.8 1.8 -15.2 1 -13.9 0.7" fill="none" stroke="#c4c4c4" stroke-width="0.9" stroke-linejoin="round" />
<path d="M66.4 498.9l0.3 -7.9 0.6 -4.2 0.4 -1.4 0.6 -1.1 0.8 -0.7 1 -0.5 2.9 -0.5 21 -1.9 37 -2.6 -0.3 13.2 -0.2 1.9 -0.6 0.5 -3.1 0.6 -4.3 0.7 -19.9 2.1 -19.1 1.1 -17.1 0.7" fill="none" stroke="#c4c4c4" stroke-width="0.9" stroke-linejoin="round" />
<path d="M66.4 499.4l0.3 -8.3 0.6 -4.3 0.5 -1.5 0.6 -1.1 0.8 -0.7 1 -0.4 2.9 -0.5 21.2 -1.9 49.7 -3.5 -0.3 14.3 -0.3 1.7 -0.8 0.5 -3.2 0.7 -4.6 0.6 -25.1 2.4 -22.9 1.2 -20.4 0.8" fill="none" stroke="#c4c4c4" stroke-width="0.9" stroke-linejoin="round" />
<path d="M66.4 499.9l0.4 -8.8 0.6 -4.4 0.5 -1.5 0.7 -1.1 0.9 -0.7 1 -0.4 2.9 -0.4 21.8 -2 45 -3.1 16.7 -0.8 -0.4 15.3 -0.3 1.3 -1.1 0.5 -3.4 0.6 -4.8 0.6 -30.6 2.7 -26.4 1.3 -23.5 0.9" fill="none" stroke="#c4c4c4" stroke-width="0.9" stroke-linejoin="round" />
<path d="M66.4 500.3l0.4 -9 0.6 -4.6 0.5 -1.6 0.8 -1.1 0.8 -0.6 1.2 -0.4 25 -2.4 44.5 -3.1 21.9 -1.1 7.7 -0.6 -0.1 11 -0.3 5.3 -0.4 1.2 -1.4 0.5 -3.5 0.7 -4.9 0.5 -36.1 3 -30.3 1.5 -26.4 0.8" fill="none" stroke="#c4c4c4" stroke-width="0.9" stroke-linejoin="round" />
<path d="M66.4 500.8l0.4 -9.5 0.6 -4.6 0.5 -1.5 0.7 -1.1 0.8 -0.7 1.4 -0.4 23.5 -2.3 44.1 -3.1 44.4 -2.1 -0.2 12 -0.3 4.7 -0.4 1.2 -1.9 0.5 -3.4 0.6 -5.1 0.5 -41.8 3.3 -33.8 1.6 -29.5 0.9" fill="none" stroke="#c4c4c4" stroke-width="0.9" stroke-linejoin="round" />
<path d="M66.4 502.3l0.4 -10.4 0.7 -5.2 0.5 -1.6 0.8 -1.1 1 -0.7 1.4 -0.4 23.7 -2.3 45.9 -3.2 22.6 -1.1 9.8 -1.1 4.4 -0.1 19.3 0.2 11.7 -0.5 -0.3 8.9 -0.3 1.5 -0.5 0.8 -2.8 2.4 -3.4 1.9 -3.9 1.4 -4.7 1.2 -4.8 0.8 -6.1 0.6 -40.5 3.3 -25.5 2.8 -9.2 0.9 -18.7 0.7 -21.5 0.3" fill="none" stroke="#c4c4c4" stroke-width="0.9" stroke-linejoin="round" />
<path d="M66.4 504.3l0.4 -11.3 0.3 -3.5 0.4 -2.5 0.6 -1.8 0.7 -1.2 1 -0.7 1.6 -0.4 24.4 -2.3 44.3 -3.1 23.1 -1.2 8.6 -0.6 39.3 -0.2 9.5 -0.6 6.3 -0.6 7.6 -1.7 -0.5 9.3 -0.4 1.8 -0.7 1 -3.8 2.8 -4.2 2.2 -5 1.8 -6.3 1.4 -6.6 1.1 -8.6 0.9 -45.2 3.7 -30.7 3.3 -11.2 1.1 -16.8 0.8 -28.1 0.5" fill="none" stroke="#c4c4c4" stroke-width="0.9" stroke-linejoin="round" />
<path d="M66.4 506.9l0.4 -12.9 0.6 -6.2 0.6 -2 0.7 -1.4 0.9 -0.9 1.4 -0.6 23.3 -2.2 41.9 -3 27.4 -1.4 15.2 -1.2 19.5 -0.8 21.7 -1.7 10.6 -1.1 18.3 -2.5 5.4 -1.2 6.1 -2.2 -0.5 6.7 -0.6 3.3 -1.4 2.5 -3 3.5 -3.8 3.2 -4.5 2.7 -5.4 2.2 -6.1 1.6 -6.8 1.2 -8.8 1.1 -53.7 5.4 -36.6 4.7 -13.7 1.5 -16 1.1 -19 0.5 -14.1 0.1" fill="none" stroke="#c4c4c4" stroke-width="0.9" stroke-linejoin="round" />
<path d="M66.4 508.9l0.4 -13.9 0.6 -6.6 0.5 -2.2 0.7 -1.6 0.9 -1 1.2 -0.6 2.7 -0.4 20.7 -1.9 43.2 -3 26.3 -1.4 15.1 -1.2 16.9 -0.6 9 -0.6 22 -1.9 22.1 -3 5.1 -1.2 5.2 -1.8 10.8 -5 5.2 -2.8 3 -2.3 3 -2.9 2.6 -3.4 2.6 -4.4 -0.6 10.4 -0.4 3.7 -0.5 2.4 -0.7 2 -0.9 1.7 -3.4 4.8 -3.1 3.3 -3 2.9 -3 2.4 -3.5 2.3 -3.8 2.2 -3.9 1.8 -4.4 1.7 -4.7 1.5 -5.6 1.5 -6.1 1.3 -15.5 2.6 -16.8 2.2 -31.1 3.5 -36.3 5.1 -14.7 1.8 -11.6 1.2 -10.4 0.6 -20.3 0.6 -15.5 0.2" fill="none" stroke="#c4c4c4" stroke-width="0.9" stroke-linejoin="round" />
<path d="M66.4 510.9l0.4 -14.7 0.6 -7.7 0.6 -2.4 0.7 -1.6 1 -1 1.3 -0.5 2.7 -0.4 22.2 -2 44.9 -3.2 23.6 -1.1 13.5 -1.1 21.3 -0.9 17.3 -1.4 11.1 -1.1 18.4 -2.4 7.2 -1.5 6.8 -2.4 14.4 -6.5 2.9 -1.6 2.9 -1.8 2.9 -2.2 2.9 -2.6 2.4 -2.5 2 -2.4 4.3 -6.7 2.9 -5.9 2.9 -7.4 3.4 -6.6 1.9 -5 2.9 -9.3 3.4 -14.5 -0.6 8.1 -0.8 6.4 -1.1 5.9 -2.1 7.9 -2.8 9.4 -2.9 8.5 -3.3 8.5 -3.4 7.2 -2.9 5.2 -3.4 5.3 -3.4 4.5 -3.3 3.8 -3.9 3.7 -4.3 3.5 -4.4 2.8 -4.8 2.7 -6.8 2.9 -7.2 2.4 -8.7 2.3 -10.1 2 -15.4 2.5 -30.9 4 -42 6.1 -18.8 2.3 -16.4 1.4 -21.3 0.8 -20.7 0.3" fill="none" stroke="#c4c4c4" stroke-width="0.9" stroke-linejoin="round" />
<path d="M66.4 501.2l0.7 -9 0.5 -2.9 0.6 -2.3 0.8 -1.6 1 -1.3 1.3 -0.8 1.7 -0.5 21.4 -2.1 47.5 -3.3 29.4 -1.5 19.3 -0.2 5.1 -0.4 -0.3 9.2 -0.2 1.6 -0.5 0.9 -2.6 1.9 -3.6 1.8 -3.8 1.3 -4.5 1.2 -6.1 0.9 -7.9 0.9 -35 2.8 -24.7 2.2 -21.1 0.8 -19 0.4" fill="none" stroke="#8c8c1c" stroke-width="1.0" stroke-linejoin="round" />
<path d="M66.4 503.3l0.7 -10.2 0.5 -3.2 0.7 -2.7 0.8 -1.8 1 -1.2 1.5 -1 1.9 -0.5 21 -2 47.2 -3.3 21 -1 11.6 -0.9 10.7 -0.3 18 0.3 11.6 -0.9 7 -0.9 -0.5 8.4 -0.5 1.6 -0.7 1.2 -3 2.8 -3 2 -3.7 1.5 -4.2 1.1 -5.2 0.7 -14.6 1.1 -79.3 7.9 -20.1 0.9 -20.4 0.4" fill="none" stroke="#ff0000" stroke-width="1.0" stroke-linejoin="round" />
<path d="M66.4 506.0l0.7 -11.4 0.5 -3.7 0.7 -3 0.7 -2 1 -1.5 1.4 -1 1.8 -0.6 22.4 -2.2 45.2 -3.2 22.7 -1.1 9.6 -1.7 12.5 -0.1 12 0.4 11.4 0 18.2 -1 6 -0.6 5.7 -1 4.6 -1.1 3.9 -1.4 -0.3 6.2 -0.4 3.1 -0.6 1.6 -1.8 2.4 -3 2.9 -3.2 2.1 -3.9 1.7 -5 1.3 -7.8 1.2 -13.5 1.4 -33.1 2.6 -11.7 1.1 -57.2 7.2 -6.1 0.5 -13.1 0.5 -20.3 0.4" fill="none" stroke="#ff00ff" stroke-width="1.0" stroke-linejoin="round" />
<path d="M66.4 508.3l0.7 -12.4 0.5 -4.3 0.6 -3 0.8 -2.4 1 -1.6 1.4 -1.1 1.6 -0.6 2.8 -0.5 18.3 -1.7 43.1 -3 26.4 -1.4 15 -1.2 16.7 -0.6 8.1 -0.5 21.9 -1.9 18.3 -2.4 4.9 -0.8 4.1 -0.9 3.6 -1.3 3.7 -1.7 4 -2.4 3.7 -2.6 3.2 -2.9 2.5 -2.8 -0.5 8.9 -0.6 5.7 -0.9 3.4 -1.4 2.6 -2 2.2 -2.4 2.3 -2.5 2 -2.4 1.6 -2.8 1.6 -3.3 1.4 -6.9 2.2 -6.1 1.4 -7.7 1.2 -67.5 7.6 -34.1 4.7 -17.5 2.7 -7.7 1 -6.5 0.5 -10.5 0.5 -23.6 0.5" fill="none" stroke="#008000" stroke-width="1.0" stroke-linejoin="round" />
<path d="M66.4 510.9l0.6 -13.3 0.5 -4.5 0.6 -3.4 0.7 -2.7 1 -1.9 1.1 -1.2 1.5 -0.8 3.2 -0.6 20.6 -2 44.8 -3.1 22.4 -1.1 15.5 -1.2 18.8 -0.7 16 -1.2 16.9 -1.7 15.5 -2.1 6 -1.1 3.2 -0.9 3.6 -1.3 16 -6.7 4.6 -2.4 4.6 -3.2 4.5 -4.2 1.9 -2.2 1.8 -2.5 3.6 -6.3 1.9 -4 1.3 -3.6 -1 11.6 -0.7 4.1 -0.8 3.1 -1.1 2.8 -1.5 3.1 -2.3 3.9 -2.7 4 -2.7 3.4 -3.2 3.5 -3.2 3 -3.7 2.9 -4.1 2.7 -4.1 2.2 -4.6 2.1 -4.6 1.7 -5 1.6 -5.9 1.5 -12.8 2.4 -12.8 1.8 -36.6 4.4 -23.3 3.1 -30.2 4.6 -18.3 3.4 -7.3 1.1 -6.4 0.7 -11.9 0.6 -11.4 0.4 -10.5 0.2" fill="none" stroke="#00c8c8" stroke-width="1.0" stroke-linejoin="round" />
<path d="M66.4 513.9l0.9 -8.3 1 -6.3 1.1 -5.3 1.3 -3.8 1.4 -2.6 2 -2.4 2 -1.4 3.6 -1.3 6.1 -1.1 10.1 -1 48.8 -3.5 30 -2.5 42.6 -2.3 10.7 -0.8 7.6 -0.8 15.3 -2.6 5 -1.1 4.6 -1.3 15.7 -6.6 3.1 -1.6 3 -1.9 3.6 -2.7 3 -2.8 2.6 -2.9 3 -4.1 3.6 -6.2 2.5 -5.6 2.6 -3.7 1.5 -2.7 2 -4.4 1.5 -3.9 3.6 -11.7 2.5 -10.7 7.7 -38.6 1.5 -8.8 1.5 -10.5 -0.8 13.1 -0.9 11.1 -1.3 9.9 -1.7 10.3 -2.5 12.8 -3.1 12.9 -3 11.3 -3.6 11.2 -3 8.3 -3.6 8.2 -3.5 7.1 -4.1 6.8 -4 5.6 -4.6 5.3 -4.6 4.3 -5.1 3.8 -3.5 2.3 -3.6 2 -4 2 -4.6 1.9 -10.2 3.5 -13.7 3.9 -7.6 0.7 -28.4 1.7 -7.6 0.7 -10.2 1.4 -13.7 2.4 -21.3 3.1 -45.2 8 -14.8 1.3 -20.8 0.9" fill="none" stroke="#0000ff" stroke-width="1.25" stroke-linejoin="round" />
<line x1="75.10" y1="476.90" x2="79.80" y2="476.90" stroke="#111" stroke-width="1.1"/>
<polygon points="85.00,476.90 79.80,478.75 79.80,475.05" fill="#111"/>
<line x1="238.10" y1="495.30" x2="234.77" y2="495.65" stroke="#111" stroke-width="1.1"/>
<polygon points="229.60,496.20 234.58,493.81 234.97,497.49" fill="#111"/>
<text x="322.8" y="519.9" text-anchor="end" class="rt">0.1 mV s<tspan dy="-5" font-size="8">-1</tspan></text>
<text x="195.0" y="560.6" text-anchor="middle" class="lab">Voltage (V)</text>
<text transform="translate(15.0,508.2) rotate(-90)" class="lab" font-size="15" style="font-size:15px">Gravimetric current (A g<tspan dy="-7.5" font-size="9">-1</tspan><tspan dy="7.5">)</tspan></text>
<text x="314.0" y="315.4" class="pl">(c)</text>
<line x1="413.5" y1="324.2" x2="670.2" y2="324.2" stroke="#3e3e3e" stroke-width="1.2"/>
<line x1="670.2" y1="324.2" x2="670.2" y2="521.0" stroke="#3e3e3e" stroke-width="1.2"/>
<line x1="413.5" y1="323.59999999999997" x2="413.5" y2="521.6" stroke="#3e3e3e" stroke-width="1.2"/>
<line x1="412.9" y1="521.0" x2="670.8000000000001" y2="521.0" stroke="#3e3e3e" stroke-width="1.2"/>
<line x1="444.45" y1="521.0" x2="444.45" y2="524.6" stroke="#3e3e3e" stroke-width="1.1"/>
<line x1="488.66" y1="521.0" x2="488.66" y2="524.6" stroke="#3e3e3e" stroke-width="1.1"/>
<line x1="532.87" y1="521.0" x2="532.87" y2="524.6" stroke="#3e3e3e" stroke-width="1.1"/>
<line x1="577.09" y1="521.0" x2="577.09" y2="524.6" stroke="#3e3e3e" stroke-width="1.1"/>
<line x1="621.30" y1="521.0" x2="621.30" y2="524.6" stroke="#3e3e3e" stroke-width="1.1"/>
<line x1="665.51" y1="521.0" x2="665.51" y2="524.6" stroke="#3e3e3e" stroke-width="1.1"/>
<line x1="422.34" y1="521.0" x2="422.34" y2="523.1" stroke="#3e3e3e" stroke-width="1.1"/>
<line x1="466.56" y1="521.0" x2="466.56" y2="523.1" stroke="#3e3e3e" stroke-width="1.1"/>
<line x1="510.77" y1="521.0" x2="510.77" y2="523.1" stroke="#3e3e3e" stroke-width="1.1"/>
<line x1="554.98" y1="521.0" x2="554.98" y2="523.1" stroke="#3e3e3e" stroke-width="1.1"/>
<line x1="599.19" y1="521.0" x2="599.19" y2="523.1" stroke="#3e3e3e" stroke-width="1.1"/>
<line x1="643.41" y1="521.0" x2="643.41" y2="523.1" stroke="#3e3e3e" stroke-width="1.1"/>
<line x1="409.9" y1="521.00" x2="413.5" y2="521.00" stroke="#3e3e3e" stroke-width="1.1"/>
<line x1="409.9" y1="481.64" x2="413.5" y2="481.64" stroke="#3e3e3e" stroke-width="1.1"/>
<line x1="409.9" y1="442.28" x2="413.5" y2="442.28" stroke="#3e3e3e" stroke-width="1.1"/>
<line x1="409.9" y1="402.92" x2="413.5" y2="402.92" stroke="#3e3e3e" stroke-width="1.1"/>
<line x1="409.9" y1="363.56" x2="413.5" y2="363.56" stroke="#3e3e3e" stroke-width="1.1"/>
<line x1="409.9" y1="324.20" x2="413.5" y2="324.20" stroke="#3e3e3e" stroke-width="1.1"/>
<line x1="411.4" y1="501.32" x2="413.5" y2="501.32" stroke="#3e3e3e" stroke-width="1.1"/>
<line x1="411.4" y1="461.96" x2="413.5" y2="461.96" stroke="#3e3e3e" stroke-width="1.1"/>
<line x1="411.4" y1="422.60" x2="413.5" y2="422.60" stroke="#3e3e3e" stroke-width="1.1"/>
<line x1="411.4" y1="383.24" x2="413.5" y2="383.24" stroke="#3e3e3e" stroke-width="1.1"/>
<line x1="411.4" y1="343.88" x2="413.5" y2="343.88" stroke="#3e3e3e" stroke-width="1.1"/>
<text transform="translate(445.05,537.7) scale(0.9,1)" text-anchor="middle" class="t">0.9</text>
<text transform="translate(489.26,537.7) scale(0.9,1)" text-anchor="middle" class="t">1.0</text>
<text transform="translate(533.47,537.7) scale(0.9,1)" text-anchor="middle" class="t">1.1</text>
<text transform="translate(577.69,537.7) scale(0.9,1)" text-anchor="middle" class="t">1.2</text>
<text transform="translate(621.90,537.7) scale(0.9,1)" text-anchor="middle" class="t">1.3</text>
<text transform="translate(666.11,537.7) scale(0.9,1)" text-anchor="middle" class="t">1.4</text>
<text transform="translate(409.10,526.10) scale(0.9,1)" text-anchor="end" class="t">0.0015</text>
<text transform="translate(409.10,486.74) scale(0.9,1)" text-anchor="end" class="t">0.0018</text>
<text transform="translate(409.10,447.38) scale(0.9,1)" text-anchor="end" class="t">0.0021</text>
<text transform="translate(409.10,408.02) scale(0.9,1)" text-anchor="end" class="t">0.0024</text>
<text transform="translate(409.10,368.66) scale(0.9,1)" text-anchor="end" class="t">0.0027</text>
<text transform="translate(409.10,329.30) scale(0.9,1)" text-anchor="end" class="t">0.0030</text>
<clipPath id="cd"><rect x="414.1" y="324.8" width="255.50000000000006" height="195.60000000000002"/></clipPath>
<g clip-path="url(#cd)">
<path d="M413.5 464.4l0.5 -1.2 0.6 0.5 0.5 -0.4 1.1 -0.3 0.5 -0.5 0.5 0.2 0.5 -0.3 0.6 0.8 0.5 -0.9 2.1 -0.8 1.1 0 0.5 -0.3 0.5 0.2 0.6 -0.4 0.5 -0.1 0.5 0.2 1.1 -0.6 1.1 0 0.5 0.3 0.5 -0.6 0.6 -0.1 0.5 0.2 0.5 -0.4 1.1 0.3 1 -0.3 0.6 0.1 0.5 -0.8 0.5 0.8 1.1 -0.7 0.5 0.3 0.6 0.1 1 -0.5 0.5 0.2 0.6 -0.1 0.5 0.2 1.1 -0.4 0.5 0.1 1.1 -0.7 0.5 0.2 1.6 -0.7 0.5 0 0.5 -1 0.6 0.1 0.1 -0.4 0.3 66.3" fill="none" stroke="#c4c4c4" stroke-width="1.0" stroke-linejoin="round"/>
<path d="M413.5 450.3l0.5 0.2 0.6 -0.4 0.5 0.2 0.5 -0.8 1.6 0.3 0.5 -0.9 1.1 0.4 0.5 -0.3 0.6 0.4 0.5 -0.6 0.5 0.3 0.6 -0.4 0.5 0.5 1.6 -0.7 0.5 0.7 0.5 -0.2 1.1 0.1 1.1 -0.4 1 0.1 0.6 0.6 0.5 -0.4 2.1 1.5 0.5 -0.1 0.6 0.1 1 1.1 2.7 -0.2 0.5 0.2 0.5 -0.3 0.6 0.2 1.6 0 0.5 0.5 1.1 -0.2 0.5 -0.8 0.5 0.4 0.5 -0.1 0.6 0.3 0.5 -0.6 0.5 0.7 0.6 0 0.5 -0.5 1.1 0.1 1.6 0.6 0.5 -0.5 0.5 0.2 0.5 -0.1 0.6 0.4 0.5 -0.3 0.5 0.2 0.6 -0.6 0.5 0.2 0.5 -0.1 0.6 0.5 1 -0.4 1.1 0.2 1 -0.3 1.1 0.7 0.5 -0.6 1.1 -0.2 0.5 0 0.6 0.4 0.5 0.1 0.5 -0.2 1.6 0 0.5 -0.4 1.1 0.4 0.5 -0.2 1.1 0 1.1 0.4 0.5 -0.3 2.1 0.4 0.5 -0.8 0.6 0.7 0.5 -0.3 1.6 0.3 1.1 -0.2 0.5 0.4 0.5 -0.4 1.1 0.4 0.5 -0.2 0.5 0.7 0.6 -0.2 0.5 0.4 0.5 -0.4 0.6 0.1 1 0.5 0.5 -0.2 0.6 0.4 0.5 0 0.5 0.5 0.6 -0.4 0.5 0.5 0.5 -0.3 1.6 0.2 1.1 0.7 0.5 -0.2 1.1 0.4 0.5 -0.3 1.1 -0.1 0.5 -0.3 0.5 0.5 0.6 -0.5 0.5 0.5 0.5 -0.2 0.6 0.2 1 -0.5 0.5 0.2 0.6 -0.2 3.2 -0.3 0.5 -0.5 0.5 0.3 0.5 -0.3 0.6 0.5 0.5 -0.1 0.5 -0.8 0.6 0.4 1 -0.4 0.6 0.2 1 -0.7 0.6 0.3 1 -0.1 0.5 -0.4 0.6 0.3 0.5 -0.1 0.5 -0.5 1.1 0 0.5 -0.2 0.6 0.4 1 -0.8 1.1 0 0.5 0.3 0.5 -0.7 1.1 -0.1 0.5 -0.3 0.6 0.4 0.5 -0.8 0.5 0.1 1.1 -0.4 0.5 -0.5 0.5 0.4 0.6 -0.6 1 -0.5 1.1 0 1.6 -0.4 1.1 -0.7 0.5 0 1 -0.6 1.1 -0.1 1.1 -0.7 1 0.1 0.6 -0.7 1 -0.4 0.6 0.1 0.5 -0.9 0.5 0.2 0.5 0 0.6 -0.7 0.3 79.6" fill="none" stroke="#c4c4c4" stroke-width="1.0" stroke-linejoin="round"/>
<path d="M413.5 459.5l0.5 -0.3 0.6 0.2 0.5 -0.4 0.5 0.2 0.6 0.5 0.5 -0.6 0.5 0.5 0.5 -0.4 0.6 0.2 0.5 -0.2 0.5 -0.5 1.1 0.5 1.1 -0.4 0.5 0.4 1 -0.5 1.1 0.5 0.5 -0.3 1.1 0.4 1.1 -0.6 0.5 -0.1 1.1 0.5 1.5 -0.3 0.6 0.1 2.1 -0.5 0.5 0.2 1.1 -0.1 0.5 0.3 0.6 -0.2 0.5 0.7 1 -0.8 0.6 0.3 1 -0.4 0.6 0.4 1 -1 0.6 0.9 0.5 -0.4 0.5 0.5 0.5 -0.5 0.6 -0.2 0.5 0.6 0.5 -0.6 1.1 0.5 1.1 -0.4 1 0.2 0.6 -0.4 0.5 0.3 0.5 0 0.5 0.3 0.6 -0.6 0.5 -0.1 0.5 0.3 0.6 -0.3 1.6 0.3 0.5 -0.4 0.5 0.1 0.6 -0.6 1 0.9 0.5 -0.5 1.1 -0.2 0.5 0.4 1.1 -0.5 0.5 0.4 1.1 0 0.5 -0.3 0.5 0.5 1.6 -0.6 1.1 0.3 0.5 -0.3 0.6 0.3 0.5 -0.2 0.5 0.2 1.1 -0.4 0.5 -0.4 0.5 0.5 0.6 0.1 2.6 -0.5 0.6 0.5 1.6 -0.7 1 0.6 1.1 -0.5 0.5 0.4 0.5 0 2.7 -0.2 0.5 -0.4 0.5 0.5 0.6 -0.3 0.5 0.4 0.5 -0.9 0.6 0.6 0.5 0 0.5 -0.3 1.1 0.2 1.1 -0.3 1.5 0.4 0.6 -0.3 1.6 0.2 0.5 -0.4 0.5 -0.1 0.6 0.4 0.5 -0.3 1.6 0.5 0.5 -0.3 0.5 0.4 0.6 -0.5 0.5 0.5 0.5 -0.4 0.6 0.1 0.5 0.5 1.1 -0.2 1 0.4 1.1 -0.1 0.5 0.3 0.5 -0.3 1.1 0.1 0.5 0.5 1.1 0.1 0.5 -0.3 1.1 0.3 0.5 -0.3 0.5 0.3 0.6 0 0.5 -0.3 1.1 0.2 1 0.6 0.6 -0.6 0.5 0 0.5 -0.5 0.6 0.5 1 -0.4 0.5 0.3 0.6 -0.6 1 0.2 0.6 -0.4 0.5 0.4 0.5 0 0.6 -0.7 0.5 -0.1 0.5 0.3 1.1 -0.6 2.1 0 0.5 -0.2 0.6 0.2 1 -0.4 1.1 0 1 -0.7 0.6 0.4 0.5 -0.2 0.5 0.3 0.6 -0.4 1 0.1 0.6 0.3 0.5 -0.3 1.6 -0.1 1.6 0.3 0.5 0.4 0.5 -0.4 1.6 0.4 0.6 -0.3 1.5 0.5 1.6 -0.2 1.1 0.5 0.5 -0.2 1.1 -0.1 0.5 -0.5 1.6 -0.4 1.1 -0.9 0.5 0.2 0.5 -0.3 0.6 -0.8 1.6 -0.8 0.5 -0.9 0.5 0.4 0.6 -0.8 0.5 0.1 1 -0.7 1.1 -0.1 0.5 -0.5 1.1 -0.2 0.5 -0.4 0.6 0.6 1 -0.5 0.5 0.1 0.6 -0.6 1 0.4 0.6 -0.3 0.5 -0.8 0.5 -0.4 1.1 0.7 0.5 -0.4 1.1 0 0.5 -0.5 1.1 0.1 1.6 -0.7 0.5 0.1 0.5 -0.3 1.1 0.3 0.5 -0.8 0.6 -0.5 0.5 0.2 1 0 0.6 -0.2 0.5 -0.6 0.5 -0.1 0.6 0.2 0.5 -0.7 0.5 0.3 0.6 -0.5 0.5 0 1.6 -0.6 0.5 -0.6 0.5 0.1 1.1 -0.5 0.5 0 1.1 -0.9 1.6 -0.5 0.5 -0.6 0.5 0.2 1.6 -1.4 0.6 0.1 0.5 -0.2 0.5 -0.8 0.6 0.3 0.5 -0.2 1.1 -0.9 0.5 0.1 1 -1.4 0.6 -0.2 1 -0.8 0.6 -0.9 0.5 0.3 0.5 -0.7 1.6 -1.1 1.1 -1.4 1 -0.8 0.6 -1 0.5 -0.4 1.1 -2 0.5 -0.3 0.5 -1.4 0.6 -0.4 1.5 -3 1.1 -1.2 1.6 -2.6 0.5 -0.5 0.6 -1.1 3.7 -4.7 0.5 -0.2 2.7 -4.1 0.5 -0.4 0.5 -1 1.6 -1.1 1.1 -1.7 0.5 -0.3 0.5 -0.9 0.6 -0.3 0.5 -0.8 1.1 -0.5 0.5 -1 0.5 -0.2 0.9 -1.4 0.3 124.1" fill="none" stroke="#c4c4c4" stroke-width="1.0" stroke-linejoin="round"/>
<path d="M413.5 463.6l0.5 0.1 0.6 -0.6 0.5 0.2 0.5 -0.3 1.1 0.5 1.6 -0.5 0.5 0.4 0.5 0 1.1 -0.1 0.5 -0.3 0.6 0.7 0.5 -0.4 1 0.1 0.6 -0.6 0.5 0.5 0.5 -0.1 1.1 0.4 0.5 -0.2 0.6 -0.4 1 0.5 1.6 -0.1 0.5 0.5 1.1 0.1 0.5 -0.3 0.6 0.9 0.5 -1 1.1 1.3 0.5 -0.4 0.5 0.1 0.6 -0.3 0.5 0.6 0.5 -0.6 0.5 0.3 0.6 -0.1 0.5 -0.4 0.5 0.3 0.6 -0.7 1 -0.1 0.6 -0.3 1 -0.2 0.5 -0.5 1.1 -0.4 0.5 -0.1 0.6 0.1 0.5 -0.4 0.5 0.1 1.1 -0.6 0.5 0.3 0.6 -0.6 1 0.4 0.5 -0.7 0.6 0.1 0.5 -0.5 0.5 0.2 0.6 -0.4 0.5 0.2 1.1 -0.1 0.5 0.2 0.5 -0.4 0.6 0 2.1 -0.8 1 0.6 1.1 -0.5 0.5 0.4 0.6 -0.5 1 -0.1 1.1 0.2 0.5 0.6 0.5 -0.4 0.6 -0.2 1 0.4 0.6 -0.3 1 0.7 1.1 0.2 0.5 -0.4 0.5 0 0.6 0.7 0.5 0 0.5 -0.6 0.6 0.4 1 0 2.7 -0.9 1 -1.1 0.6 0.3 0.5 -0.5 0.5 0.2 0.6 -0.1 1 -0.6 1.1 0 0.5 -0.7 0.5 0.2 1.1 -0.6 0.5 0 0.6 -0.7 0.5 0.2 0.5 -0.6 1.1 -0.5 0.5 0.2 0.6 -0.5 0.5 0 0.5 -0.4 0.5 0.2 0.6 0 0.9 -0.7 0.3 69.2" fill="none" stroke="#8c8c1c" stroke-width="1.45" stroke-linejoin="round"/>
<path d="M413.5 456.8l0.5 0.3 1.1 -1 0.5 0.6 1.1 -0.7 0.5 0 0.5 -0.2 0.6 0.2 0.5 -0.3 0.5 0.5 0.6 -0.2 0.5 -0.6 1.1 0.1 0.5 -0.4 0.5 0.3 1.6 -0.3 1.1 0.3 0.5 -0.1 0.5 -0.4 0.6 0.1 0.5 -0.4 0.5 0.2 0.6 -0.4 0.5 0.3 0.5 -0.5 1.6 0.2 0.5 -0.6 1.1 0.2 0.5 0 0.6 -0.3 0.5 0.1 0.5 -0.2 0.6 0.3 1.5 -1.1 1.1 0.5 0.5 -0.3 0.6 0.1 1 -0.7 0.6 0.4 0.5 -0.3 0.5 0.1 0.5 -0.6 0.6 0.3 0.5 -0.3 0.5 0.2 0.6 -0.4 1 -0.1 0.6 0.3 1 -0.5 1.1 -0.2 0.5 0.6 0.5 -0.8 1.6 0.6 0.6 -0.3 1.6 0.3 0.5 -0.2 0.5 0.4 0.6 -0.4 0.5 0.3 0.5 -0.5 0.5 0.4 0.6 -0.4 0.5 -0.1 0.5 0.5 0.6 -0.3 0.5 0.3 0.5 -0.3 0.6 0.6 1 -0.5 1.1 0.4 0.5 -0.3 1.1 0.7 1.6 -0.5 0.5 0.3 1.1 -0.7 0.5 0.5 0.5 0 0.5 0.6 1.1 -0.5 0.5 0 0.6 0.4 0.5 -0.3 2.7 0.7 1 0.6 0.5 -0.6 0.6 1.1 0.5 -0.4 0.5 0.4 0.6 -0.3 0.5 0.4 1.6 0.6 0.5 0.1 0.5 -0.2 1.1 0.7 3.2 0.4 0.5 0.8 0.6 -0.3 0.5 0.2 0.5 0 0.5 0.5 0.6 0.2 0.5 -0.4 0.5 0.3 0.6 -0.3 0.5 0.6 1.1 -0.5 0.5 0.5 0.5 -0.2 1.1 0.1 0.5 -0.2 1.1 0.4 1 -0.3 0.6 0.6 0.5 -0.4 0.5 -0.1 0.6 0 0.5 0.3 1 0 0.6 0.1 0.5 -0.5 0.5 0.3 1.6 0.2 0.6 -0.5 0.5 1.1 0.5 -0.8 0.6 0.2 1 0.2 0.5 -0.2 0.6 -0.6 1 0.8 0.6 -0.4 0.5 0 0.5 -0.3 0.6 0.8 1 -0.6 1.1 0 0.5 -0.3 2.1 -0.1 1.1 -0.7 0.5 0 1.1 -0.8 0.5 0.3 0.5 -0.5 1.1 -0.2 0.5 -0.6 0.6 0.2 1 -0.6 0.6 -0.1 1 -0.9 0.6 0.2 0.5 -0.3 0.5 0.2 1.1 -0.8 1 0 2.2 -1.2 1 -0.3 1.1 -0.5 0.5 -0.5 1.1 -0.6 1 0.2 0.6 -0.3 0.5 -0.7 0.5 -0.3 0.6 0.3 0.5 -0.3 0.5 -0.7 0.5 0.3 0.6 -0.4 0.5 0 0.5 -0.4 0.6 -0.1 1 -0.9 0.6 -0.1 0.5 -0.3 0.5 0.1 1.1 -1 0.5 0.3 1.1 -0.4 0.5 -0.3 0.5 -0.8 1.6 -0.5 0.6 -0.7 0.5 0.2 0.5 -0.2 0.6 -0.6 1 -0.1 0.5 -0.5 1.1 -0.4 1.6 -1.2 0.5 0 1.1 -1.1 0.5 0 0.5 -0.6 1.1 -0.3 0.5 -0.6 1.6 -0.9 0.6 -0.8 0.5 -0.4 0.5 0.2 1.1 -1.5 1 -0.4 0.6 -0.6 0.5 -0.1 1.1 -0.9 0.5 -0.8 1.1 -0.2 0.5 -1 0.5 0 2.1 -2.4 0.6 -0.4 0.5 -0.2 1.1 -0.9 1 -1.1 1.1 -1.5 0.5 -0.2 0.9 -0.9 0.3 101.3" fill="none" stroke="#ff0000" stroke-width="1.45" stroke-linejoin="round"/>
<path d="M413.5 438.9l0.5 0.3 0.6 -0.3 0.5 0.4 0.5 -0.3 1.1 0.3 0.5 -0.1 0.5 0.3 0.6 -0.6 0.5 -0.2 0.5 0.7 0.6 0 2.1 -0.3 0.5 -0.4 1.1 0.4 0.5 -0.3 0.5 0.5 0.6 -0.8 1 0.5 0.6 -0.4 1 -0.2 0.6 0.1 0.5 0.4 1.6 -0.5 0.5 0.2 1.1 -0.5 1.6 0.3 0.5 -0.3 1.1 0.3 0.5 -0.8 0.5 -0.2 0.5 0.4 2.2 -0.7 0.5 0 0.5 -0.2 0.6 0.1 0.5 -0.5 1 0.1 0.6 -0.2 0.5 0.2 1.1 -0.3 0.5 0.1 1.1 -0.4 2.6 0.6 0.5 0 0.6 0.2 1 -0.4 0.6 0.5 1 -0.5 1.1 0.4 0.5 -0.1 0.6 0.2 1 0 0.5 -0.2 0.6 0.1 0.5 -0.1 0.5 0.3 0.6 -0.5 1 0.7 1.1 -0.2 0.5 0.2 0.5 -0.2 0.6 0.2 1.6 1 0.5 -0.1 0.5 0.7 0.6 -0.3 1.6 1.5 1 -0.2 0.5 0.8 1.1 0.1 2.1 0.7 0.6 -0.4 0.5 0.9 0.5 -0.5 0.6 0 0.5 0.3 0.5 -0.1 0.5 0.5 1.1 -0.5 1.6 0 0.5 0.3 0.6 -0.3 0.5 0.6 0.5 -0.4 0.5 0 0.6 0.3 0.5 -0.6 1.1 0.6 1.6 0.1 0.5 -0.1 0.5 0.2 1.1 -0.2 0.5 0.8 0.5 -0.3 0.6 0.2 0.5 0.7 0.5 0.2 0.6 -0.2 1 0.6 0.6 0 0.5 0.6 2.1 0.8 0.5 0.3 0.6 0 0.5 -0.6 0.5 0.6 0.6 -0.4 0.5 -0.1 0.5 0.5 0.6 -0.3 1 0.5 0.5 -0.4 0.6 0 1 0.5 0.6 -0.2 0.5 -0.4 1.1 0.3 0.5 0.5 0.5 -0.2 1.1 0 0.5 -0.3 1.1 0.2 0.5 -0.3 1.1 0.3 0.5 -0.3 0.5 0.4 1.1 0.1 0.5 -0.4 1.1 0.5 1 -0.5 1.1 0.5 0.5 -0.3 0.6 0.1 0.5 0.5 0.5 -0.6 1.1 -0.1 0.5 0 0.5 0.5 1.1 -0.6 1.6 0.5 0.5 -0.3 0.6 0.3 0.5 -0.3 0.5 0.2 1.1 0.1 0.5 -0.2 1.1 0.2 0.5 -0.4 0.5 0.3 1.1 0.2 0.5 -0.2 1.1 0 0.5 -0.1 1.1 0.2 0.5 0 0.5 -0.3 0.6 0.1 0.5 -0.4 0.5 0.6 0.6 -0.3 0.5 0.1 0.5 -0.4 1.6 0 0.5 -0.6 0.6 0.3 1 -0.7 0.6 0.1 1.6 -0.6 0.5 0.1 1.6 -0.6 1.6 0.2 0.5 -0.4 0.5 0.2 1.1 -0.8 0.5 0.3 0.6 -0.4 1 0.2 0.6 -0.4 0.5 0 0.5 0.4 0.5 -0.6 2.7 -0.6 0.5 -0.7 0.6 0.7 0.5 -0.8 0.5 -0.1 0.5 0.2 1.1 -0.8 0.5 0.1 0.6 -0.5 0.5 -0.2 0.5 -0.4 1.1 0 1.6 -0.7 1 -0.8 0.6 -0.2 0.5 0.2 0.5 -0.6 2.2 -0.9 2.1 -1.1 1 -0.1 0.6 -0.1 1 -0.8 0.6 0.2 0.5 -0.2 0.5 -0.7 0.6 0.4 0.5 -0.3 0.5 0.1 0.5 -0.8 0.6 -0.2 0.5 0.3 0.5 -0.7 0.6 0 1.6 -0.8 1 0.3 1.6 -0.8 0.5 0.2 0.6 -0.4 0.5 -0.1 0.5 -0.7 0.6 0.2 0.5 -0.5 0.5 0.1 1.1 -0.7 1.1 0.1 1 -0.6 0.5 -0.5 1.1 -0.5 1.1 0.1 1.6 -1.1 0.5 0.1 1 -1 0.6 -0.2 0.5 0.1 0.5 -0.4 0.6 0.4 1 -1.1 0.6 -0.1 0.5 0.2 0.5 -0.9 0.6 0.2 0.5 -0.4 0.5 0 1.1 -1 1.6 -0.6 0.5 -0.5 0.5 0.1 0.6 -0.8 0.5 -0.2 0.5 -0.6 2.1 -1 1.1 -1.2 0.5 0.1 1.1 -1.2 0.5 0.1 0.6 -0.5 0.5 -1.2 0.5 0.1 0.5 -0.1 1.1 -1.1 0.5 0 0.6 -0.9 2.6 -1.8 0.6 -0.7 0.5 -0.1 0.5 -0.9 0.5 -0.4 0.6 0 0.5 -0.8 0.5 -0.3 0.6 -0.8 3.7 -3.3 0.5 -0.8 1.1 -0.9 1 -1.6 0.6 0.1 2.6 -3.6 0.5 -0.2 0.6 -1 0.5 -0.1 0.5 -0.9 1.1 -0.7 0.5 -0.7 0.6 -1.1 0.5 -0.3 0.5 -1.1 1.6 -1.5 0.5 -1.1 0.6 -0.5 1 -1.8 1.1 -0.8 0.5 -1.1 1.1 -1.2 0.5 -1.1 0.6 -0.4 1 -1.4 2.7 -4.7 1.6 -2 0.5 -1.4 0.5 -0.6 0.5 -1.3 1.6 -2.9 0.6 -0.6 3.7 -7.1 0.5 -1.4 1.6 -2.9 2.1 -5.5 1.6 -3 0.6 -2.2 0.6 -1 0.3 179.5" fill="none" stroke="#ff00ff" stroke-width="1.45" stroke-linejoin="round"/>
</g>
<text x="542.0" y="560.4" text-anchor="middle" class="lab">Voltage (V)</text>
<text transform="translate(358.0,508.2) rotate(-90)" class="lab" font-size="15" style="font-size:15px">Gravimetric current (A g<tspan dy="-7.5" font-size="9">-1</tspan><tspan dy="7.5">)</tspan></text>
<text x="658.4" y="315.4" class="pl">(d)</text>
</svg>
</body></html>
